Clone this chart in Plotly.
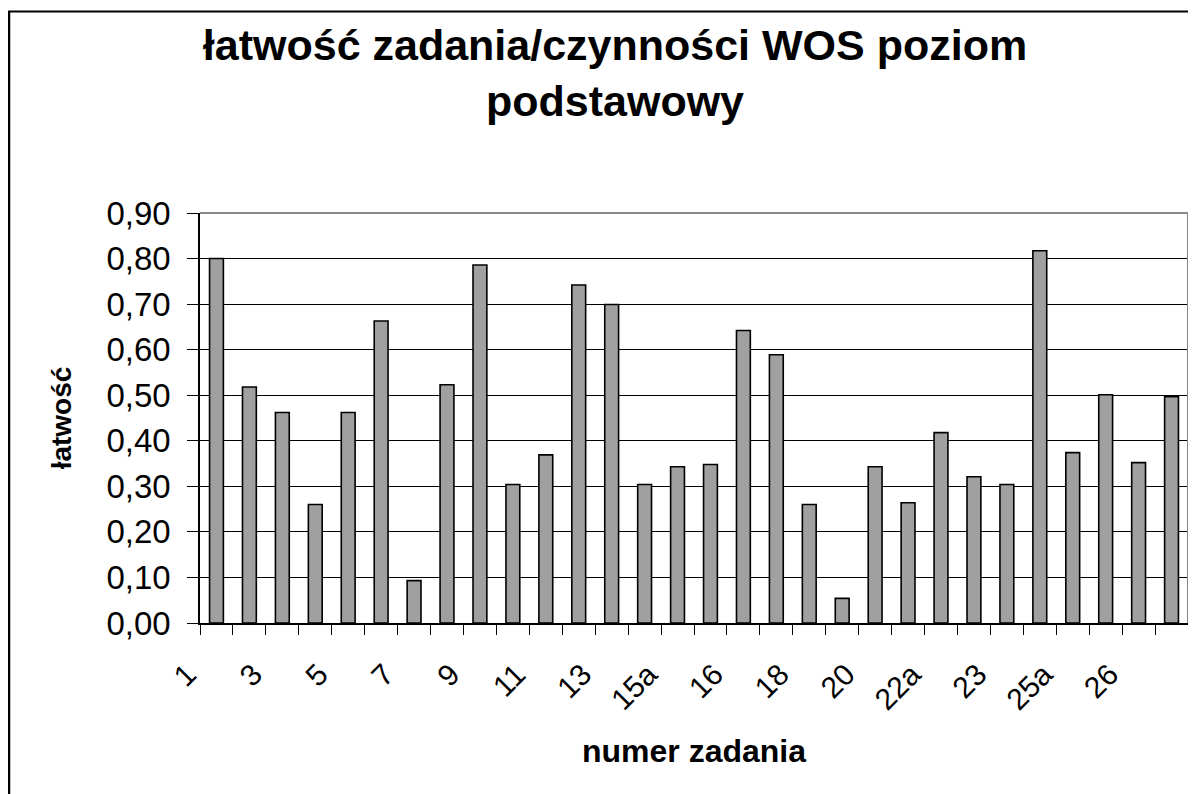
import plotly.graph_objects as go

categories = ["1", "2", "3", "4", "5", "6", "7", "8", "9", "10",
              "11", "12", "13", "14", "15a", "15b", "16", "17", "18", "19",
              "20", "21", "22a", "22b", "23", "24", "25a", "25b", "26", "27"]
values = [0.80, 0.518, 0.462, 0.26, 0.462, 0.663, 0.093, 0.523, 0.786, 0.304,
          0.369, 0.742, 0.699, 0.304, 0.343, 0.348, 0.642, 0.589, 0.26, 0.054,
          0.343, 0.264, 0.418, 0.321, 0.304, 0.817, 0.374, 0.501, 0.352, 0.497]
y_ticks = [0.0, 0.1, 0.2, 0.3, 0.4, 0.5, 0.6, 0.7, 0.8, 0.9]

title_text = "łatwość zadania/czynności WOS poziom<br>podstawowy"
x_title = "numer zadania"
y_title = "łatwość"

FONT = "Liberation Sans, Arial, sans-serif"
# the page body has an 8px margin; figure sized to fit the 1196x794 window
OFF = 8
W, H = 1196 - OFF, 794 - OFF
L, R, T, B = 200 - OFF, 8, 213 - OFF, 794 - 623

pos = list(range(len(categories)))
label_pos = pos[::2]
label_text = categories[::2]
boundaries = [p - 0.5 for p in pos] + [pos[-1] + 0.5]

fig = go.Figure(go.Bar(
    x=pos, y=values,
    marker=dict(color="#a0a0a0", line=dict(color="black", width=1.6)),
    width=0.42,
))

pw = W - L - R
ph = H - T - B

def px_x(p):
    return (p - L) / pw

def px_y(p):
    return (H - B - p) / ph

shapes = [
    # outer chart border (left & top, extends beyond window)
    dict(type="line", xref="paper", yref="paper", x0=px_x(1), x1=px_x(1),
         y0=px_y(3), y1=px_y(H + 20), line=dict(color="black", width=2.5)),
    dict(type="line", xref="paper", yref="paper", x0=px_x(0), x1=px_x(W + 20),
         y0=px_y(3.5), y1=px_y(3.5), line=dict(color="black", width=2)),
    # plot area border top & right (gray)
    dict(type="line", xref="paper", yref="paper", x0=0, x1=1, y0=1, y1=1,
         line=dict(color="#8a8a8a", width=2), layer="above"),
    dict(type="line", xref="paper", yref="paper", x0=1, x1=1, y0=0, y1=1,
         line=dict(color="#8a8a8a", width=2), layer="above"),
]

fig.update_layout(
    width=W, height=H,
    margin=dict(l=L, r=R, t=T, b=B, pad=0, autoexpand=False),
    paper_bgcolor="white", plot_bgcolor="white",
    separators=", ",
    showlegend=False,
    font=dict(family=FONT, color="black"),
    title=dict(text="<b>" + title_text + "</b>", x=(615 - OFF) / W, xanchor="center",
               xref="container", yref="container", y=1 - (60 - OFF) / H, yanchor="middle",
               font=dict(family=FONT, size=43, color="black")),
    shapes=shapes,
    bargap=0.58,
)

fig.update_xaxes(
    automargin=False,
    range=[-0.5, len(categories) - 0.5],
    tickmode="array", tickvals=label_pos, ticktext=label_text,
    tickangle=-45, ticks="", tickfont=dict(family=FONT, size=30, color="black"),
    ticklabelstandoff=20, ticklabelshift=-29,
    showgrid=False, zeroline=False,
    showline=True, linecolor="black", linewidth=1.5,
    minor=dict(tickmode="array", tickvals=boundaries, ticks="outside",
               ticklen=10, tickcolor="black", tickwidth=1, showgrid=False),
    title=dict(text="<b>" + x_title + "</b>", font=dict(family=FONT, size=32, color="black"),
               standoff=25),
)
fig.update_yaxes(
    automargin=False,
    range=[0, 0.9], tickmode="array", tickvals=y_ticks, tickformat=".2f",
    ticks="outside", ticklen=11, tickcolor="black", tickwidth=1,
    tickfont=dict(family=FONT, size=33, color="black"),
    ticklabelstandoff=10,
    showgrid=True, gridcolor="black", gridwidth=1,
    zeroline=False, showline=True, linecolor="black", linewidth=1.5,
    title=dict(text="<b>" + y_title + "</b>", font=dict(family=FONT, size=28, color="black"),
               standoff=27),
)

fig.write_html("out.html")
